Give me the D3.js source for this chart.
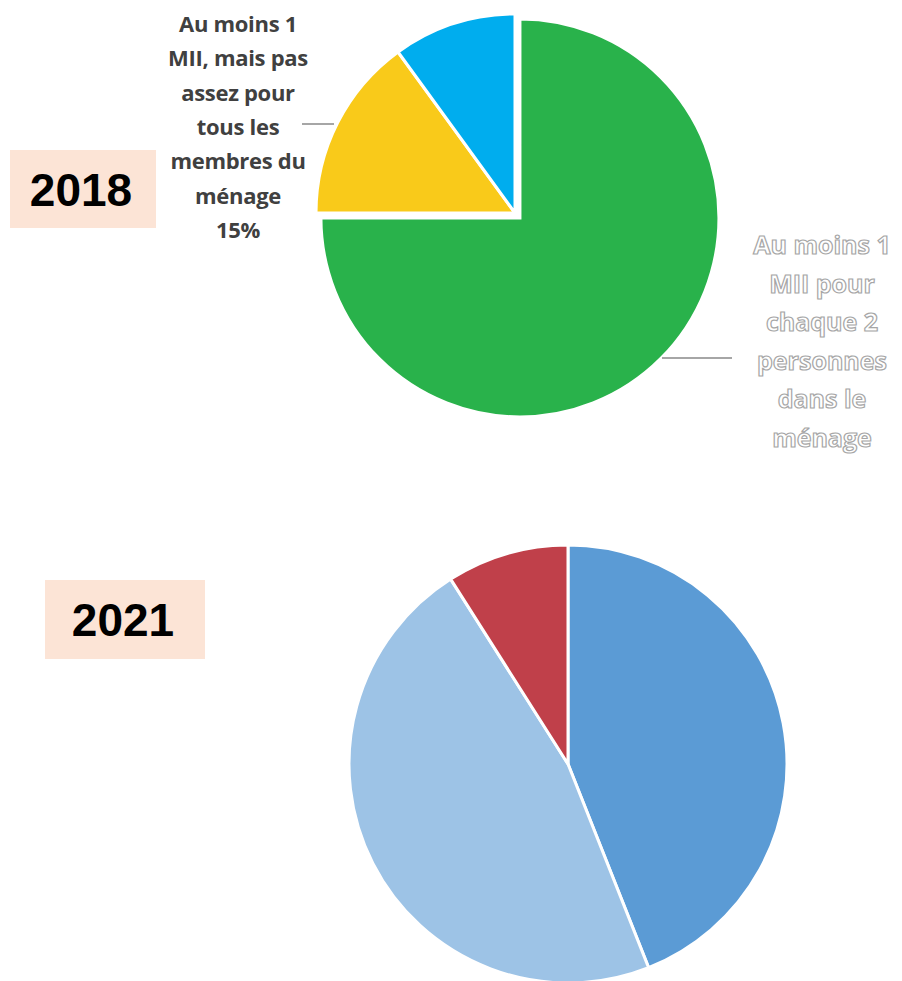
<!DOCTYPE html>
<html>
<head>
<meta charset="utf-8">
<script src="https://cdn.jsdelivr.net/npm/d3@7"></script>
<style>
  body { margin: 0; background: #fff; }
</style>
</head>
<body>
<svg id="chart" width="902" height="981"></svg>
<script>
// 2018 survey
const cats2018 = ["Au moins 1 MII pour chaque 2 personnes dans le ménage",
                  "Au moins 1 MII, mais pas assez pour tous les membres du ménage",
                  "Aucune MII"]
const vals2018 = [75, 15, 10]
const colors2018 = ["#29b24b", "#f9ca1a", "#00adee"]

// 2021 survey
const cats2021 = ["Au moins 1 MII pour chaque 2 personnes dans le ménage",
                  "Au moins 1 MII, mais pas assez pour tous les membres du ménage",
                  "Aucune MII"]
const vals2021 = [44, 47, 9]
const colors2021 = ["#5b9bd5", "#9dc3e6", "#c0404a"]

const yearLabels = ["2018", "2021"]
const label15 = ["Au moins 1", "MII, mais pas", "assez pour", "tous les", "membres du", "ménage", "15%"]
const label75 = ["Au moins 1", "MII pour", "chaque 2", "personnes", "dans le", "ménage"]

const svg = d3.select("#chart")

const pie = d3.pie().sort(null).value(d => d.v)

function drawPie(cx, cy, r, cats, vals, colors, explode) {
  data = cats.map((c, i) => ({ c: c, v: vals[i], color: colors[i] }))
  const arc = d3.arc().innerRadius(0).outerRadius(r)
  const g = svg.append("g").attr("transform", `translate(${cx},${cy})`)
  g.selectAll("path")
    .data(pie(data))
    .enter().append("path")
    .attr("transform", (d, i) => {
      const off = explode[i] || 0
      const a = (d.startAngle + d.endAngle) / 2
      return `translate(${off * Math.sin(a)},${-off * Math.cos(a)})`
    })
    .attr("d", arc)
    .attr("fill", d => d.data.color)
    .attr("stroke", "#fff")
    .attr("stroke-width", 3)
  return g
}

function yearBox(x, y, w, h, text) {
  svg.append("rect")
    .attr("x", x).attr("y", y).attr("width", w).attr("height", h)
    .attr("fill", "#fce4d6")
  svg.append("text")
    .attr("x", x + w / 2 - 2).attr("y", y + h / 2)
    .attr("dy", "0.36em")
    .attr("text-anchor", "middle")
    .attr("font-family", "Liberation Sans, Arial, sans-serif")
    .attr("font-weight", "bold")
    .attr("font-size", 46)
    .attr("fill", "#000")
    .text(text)
}

// top pie (2018)
drawPie(515, 213, 199, cats2018, vals2018, colors2018, [7, 0, 0])

// label of the 15% slice
svg.append("line")
  .attr("x1", 302).attr("x2", 334).attr("y1", 124).attr("y2", 124)
  .attr("stroke", "#a6a6a6").attr("stroke-width", 2)
svg.append("text")
  .attr("text-anchor", "middle")
  .attr("font-family", "Open Sans, sans-serif")
  .attr("font-weight", "bold")
  .attr("font-size", 22)
  .attr("letter-spacing", -0.3)
  .attr("fill", "#404040")
  .selectAll("tspan")
  .data(label15)
  .enter().append("tspan")
  .attr("x", 238)
  .attr("y", (d, i) => 32 + i * 34.3)
  .text(d => d)

// label of the 75% slice (outlined text)
svg.append("line")
  .attr("x1", 662).attr("x2", 732).attr("y1", 358).attr("y2", 358)
  .attr("stroke", "#a6a6a6").attr("stroke-width", 2)
svg.append("text")
  .attr("text-anchor", "middle")
  .attr("font-family", "Open Sans, sans-serif")
  .attr("font-weight", "bold")
  .attr("font-size", 25)
  .attr("fill", "#fff")
  .attr("stroke", "#a6a6a6")
  .attr("stroke-width", 1.2)
  .selectAll("tspan")
  .data(label75)
  .enter().append("tspan")
  .attr("x", 822)
  .attr("y", (d, i) => 254 + i * 38.6)
  .text(d => d)

yearBox(10, 150, 146, 78, yearLabels[0])

// bottom pie (2021)
drawPie(568, 764, 219, cats2021, vals2021, colors2021, [0, 0, 0])

yearBox(45, 580, 160, 79, yearLabels[1])
</script>
</body>
</html>
